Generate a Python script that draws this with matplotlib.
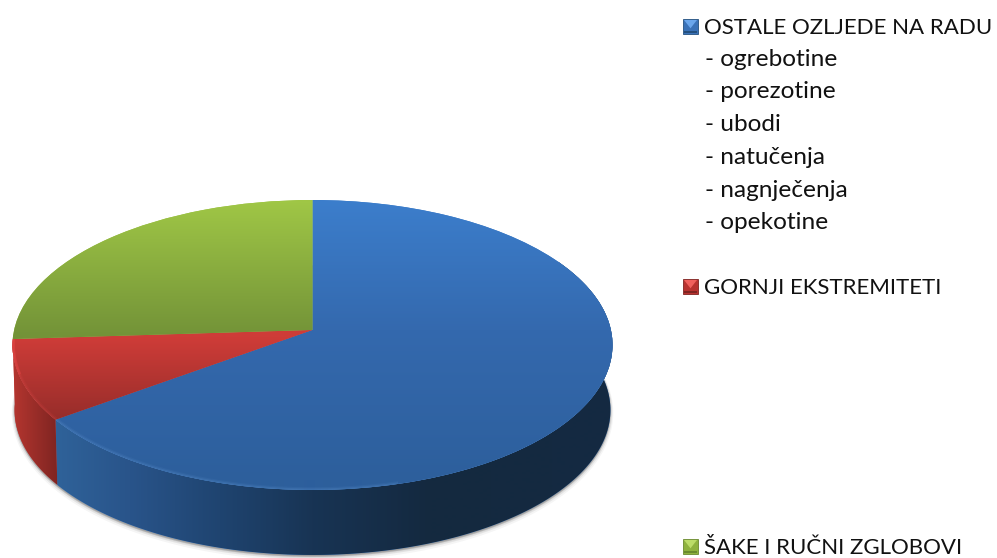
import numpy as np
import matplotlib
matplotlib.use("Agg")
import matplotlib.pyplot as plt
from matplotlib.transforms import Transform
from matplotlib.patches import Polygon, Rectangle

# ---- data ----
categories = ["OSTALE OZLJEDE NA RADU", "GORNJI EKSTREMITETI", "ŠAKE I RUČNI ZGLOBOVI"]
values = [65, 9, 26]
sub_items = ["- ogrebotine", "- porezotine", "- ubodi", "- natučenja", "- nagnječenja", "- opekotine"]
base_colors = ["#3A7BC8", "#CC3B38", "#9BC243"]

plt.rcParams["font.family"] = ["Lato", "DejaVu Sans"]

W, H = 997, 558
CX, K, A, B, C = 312.5, 298.4, 109.3, 330.0, -0.1034
DEPTH = 65


class Perspective(Transform):
    input_dims = output_dims = 2
    is_separable = False
    has_inverse = False

    def transform_non_affine(self, xy):
        xy = np.asarray(xy, float)
        u, v = xy[:, 0], -xy[:, 1]
        d = 1 + C * v
        return np.column_stack([CX + K * u / d, (A * v + B) / d])


persp = Perspective()


def rim(a0, a1, n=200, dy=0.0, xscale=1.0):
    t = np.radians(np.linspace(a0, a1, n))
    pts = persp.transform_non_affine(np.column_stack([np.sin(t), np.cos(t)]))
    pts[:, 1] += dy
    pts[:, 0] = CX + (pts[:, 0] - CX) * xscale
    return pts


fig = plt.figure(figsize=(W / 100, H / 100), dpi=100)
ax = fig.add_axes([0, 0, 1, 1])

wedges, _ = ax.pie(values, colors=base_colors, startangle=90, counterclock=False,
                   wedgeprops={"linewidth": 0})
ax.set_aspect("auto")

fracs = np.array(values, float) / np.sum(values)
ends = np.cumsum(fracs) * 360
starts = ends - fracs * 360


def vgrad(ys, cols):
    rgb = np.array([matplotlib.colors.to_rgb(c) for c in cols])
    yy = np.arange(0, H) + 0.5
    return np.stack([np.interp(yy, ys, rgb[:, i]) for i in range(3)], axis=1)[:, None, :]


def hgrad(xs, cols):
    rgb = np.array([matplotlib.colors.to_rgb(c) for c in cols])
    xx = np.arange(0, W) + 0.5
    return np.stack([np.interp(xx, xs, rgb[:, i]) for i in range(3)], axis=1)[None, :, :]


ext = (0, W, H, 0)
top_grads = [
    vgrad([200, 330, 480], ["#3C7ECC", "#3469AE", "#2D5F9C"]),
    vgrad([338, 425], ["#CE3C38", "#932C29"]),
    vgrad([200, 335], ["#A0C746", "#739338"]),
]
wall_grads = [
    hgrad([57, 130, 220, 312, 430, 612], ["#2F6299", "#29548A", "#1F4470", "#183454", "#14293F", "#142A42"]),
    hgrad([14, 59], ["#B3352F", "#7D2421"]),
]

# soft shadow under the base
full = rim(0, 360, 400, dy=DEPTH, xscale=0.993)
for off, al in [(3, 0.04), (2, 0.07), (1, 0.12)]:
    ax.add_patch(Polygon(full + np.array([0, off]), closed=True, fc="black", ec="black",
                         lw=off * 1.4, alpha=al, zorder=1))

# side walls (only the two front slices are visible)
for i in range(2):
    a0, a1 = max(starts[i], 60), ends[i]
    topr = rim(a0, a1)
    botr = rim(a1, a0, dy=DEPTH, xscale=0.993)
    poly = Polygon(np.vstack([topr, botr]), closed=True, fc=base_colors[i], lw=0, zorder=2)
    ax.add_patch(poly)
    im = ax.imshow(wall_grads[i], extent=ext, aspect="auto", zorder=3, interpolation="bilinear")
    im.set_clip_path(poly)

# top surface
for i, w in enumerate(wedges):
    w.set_transform(persp + ax.transData)
    w.set_zorder(4)
    im = ax.imshow(top_grads[i], extent=ext, aspect="auto", zorder=5, interpolation="bilinear")
    im.set_clip_path(w)

# bevel highlights on the front rim
for lw, al in [(4, 0.08), (2.2, 0.14)]:
    p = rim(165, ends[0])
    ln, = ax.plot(p[:, 0], p[:, 1], color="#6FA4E0", lw=lw, alpha=al, zorder=6, solid_capstyle="butt")
    ln.set_clip_path(wedges[0])
    p = rim(ends[0], ends[1])
    ln, = ax.plot(p[:, 0], p[:, 1], color="#F05050", lw=lw, alpha=al, zorder=6, solid_capstyle="butt")
    ln.set_clip_path(wedges[1])
p = rim(ends[1] - 14, ends[1])
ln, = ax.plot(p[:, 0], p[:, 1], color="#F04848", lw=3.5, alpha=0.35, zorder=6, solid_capstyle="butt")
ln.set_clip_path(wedges[1])

# legend as free text
X_TXT = 704
for lab, base, col, light, dark in zip(
        categories, [34, 294, 554],
        ["#3A72B8", "#B8322F", "#8FB23E"],
        ["#6AA6EC", "#F0605C", "#BCDC68"],
        ["#24507F", "#7F2421", "#6A8A2E"]):
    ax.text(X_TXT, base, lab, fontsize=16.0, va="baseline", ha="left", color="#111111", zorder=10)
    x0, y0, s = 683, base - 15, 15
    ax.add_patch(Rectangle((x0, y0), s, s, fc=col, ec=dark, lw=0.6, zorder=10))
    ax.add_patch(Polygon([(x0 + 1, y0 + 1), (x0 + s - 1, y0 + 1), (x0 + s / 2, y0 + s * 0.62)],
                         closed=True, fc=light, lw=0, zorder=11))
    ax.add_patch(Rectangle((x0 + 1, y0 + s - 3.5), s - 2, 2.5, fc=dark, lw=0, zorder=11))

for lab, base in zip(sub_items, [66, 98, 131, 164, 197, 229]):
    ax.text(X_TXT + 1, base, lab, fontsize=17.6, va="baseline", ha="left", color="#111111", zorder=10)

ax.set_xlim(0, W)
ax.set_ylim(H, 0)
ax.set_frame_on(False)
ax.set_xticks([])
ax.set_yticks([])
fig.savefig("out.png", dpi=100, facecolor="white")
